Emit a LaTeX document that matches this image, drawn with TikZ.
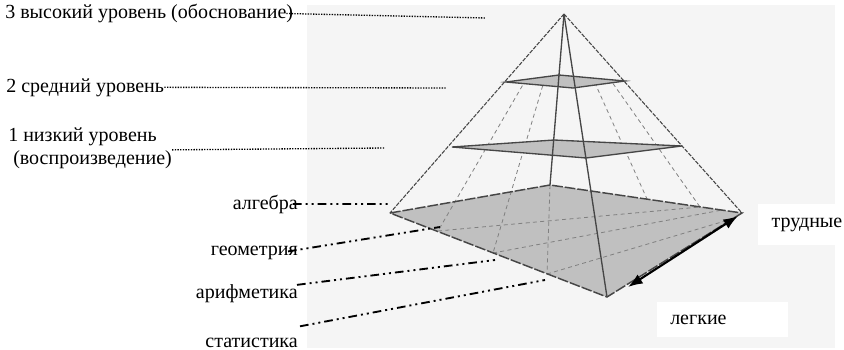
\documentclass[tikz,border=0pt]{standalone}
\usepackage{fontspec}
\setmainfont{Liberation Serif}
\usetikzlibrary{arrows.meta, calc}
\definecolor{paperbg}{RGB}{245,245,245}
\definecolor{basegray}{RGB}{192,192,192}
\definecolor{edgegray}{RGB}{70,70,70}

\begin{document}
\begin{tikzpicture}[
    x=0.75pt, y=-0.75pt,
    every node/.style={inner sep=0pt, font=\fontsize{15}{18}\selectfont},
    levelline/.style={densely dotted, line width=1pt, black},
    leader/.style={line width=1.4pt, black, dash pattern=on 6.5pt off 3pt on 1.5pt off 3pt on 1.5pt off 3pt},
    outeredge/.style={edgegray, line width=0.8pt, dash pattern=on 3pt off 1pt},
    inneredge/.style={edgegray, line width=1pt},
    fanline/.style={gray, line width=0.6pt, dash pattern=on 3pt off 2.5pt},
    section/.style={fill=basegray, draw=edgegray, line width=1pt},
    tagbox/.style={fill=white, anchor=north west, inner xsep=10pt, align=left},
    span/.style={black, line width=1.6pt, {Latex[length=11pt,width=8pt]}-{Latex[length=11pt,width=8pt]}}
]
\useasboundingbox (0,0) rectangle (844,350);
\fill[paperbg] (307,5) rectangle (835,348);

\coordinate (apex) at (564,14);
\coordinate (bl) at (390,213); \coordinate (bb) at (550,185);
\coordinate (br) at (742,213); \coordinate (bf) at (607,297);
\coordinate (lf1) at (438,231); \coordinate (lf2) at (493,253); \coordinate (lf3) at (547,274);
\coordinate (rb1) at (647,199); \coordinate (rb2) at (700,207);
\coordinate (rb3) at (722,210); \coordinate (rf1) at (735,218);

\fill[basegray] (bl) -- (bb) -- (br) -- (bf) -- cycle;
\draw[fanline] (lf1) -- (rb2); \draw[fanline] (lf2) -- (rb3); \draw[fanline] (lf3) -- (rf1);
\draw[fanline] ($(apex)!0.33!(lf1)$) -- (lf1);
\draw[fanline] ($(apex)!0.3!(lf2)$) -- (lf2);
\draw[fanline] (bb) -- (lf3);
\draw[fanline] ($(apex)!0.37!(rb1)$) -- (rb1);
\draw[fanline] ($(apex)!0.36!(rb2)$) -- (rb2);
\draw[edgegray, line width=1.1pt, dash pattern=on 8pt off 1.5pt] (bl) -- (bb) -- (br) -- (bf) -- cycle;

\draw[section] (452,147) -- (554,140) -- (682,146) -- (586,158) -- cycle;
\draw[section] (506,82) -- (559,75) -- (625,81) -- (573,88) -- cycle;

\draw[outeredge] (apex) -- (bl);
\draw[outeredge] (apex) -- (br);
\draw[inneredge] (apex) -- (bb);
\draw[inneredge] (apex) -- (bf);

\node[anchor=base west] (lvl3) at (5,18.5) {3 высокий уровень (обоснование)};
\node[anchor=base west] (lvl2) at (6,92) {2 средний уровень};
\node[anchor=base west] (lvl1a) at (8,141) {1 низкий уровень};
\node[anchor=base west] (lvl1b) at (8,164) {\ (воспроизведение)};
\coordinate (lvl3end) at (486,18);
\coordinate (lvl2end) at (446,88);
\coordinate (lvl1end) at (385,148);
\draw[levelline] ($(lvl3.east)+(-7,0)$) -- (lvl3end);
\draw[levelline] (lvl2.east) -- (lvl2end);
\draw[levelline] (lvl1b.north east) -- (lvl1end);

\node[anchor=base east] (alg) at (298,209) {алгебра};
\node[anchor=base east] (geo) at (298,255) {геометрия};
\node[anchor=base east] (ari) at (298,298) {арифметика};
\node[anchor=base east] (sta) at (298,347) {статистика};
\coordinate (algend) at (388,204);
\coordinate (geoend) at (440,227);
\coordinate (ariend) at (495,260);
\coordinate (staend) at (545,280);
\draw[leader] ($(alg.east)+(-5,0)$) -- (algend);
\draw[leader] ($(geo.east)+(-10,-1)$) -- (geoend);
\draw[leader] ($(ari.north east)+(-1,1)$) -- (ariend);
\draw[leader] ($(sta.north east)+(2,-11)$) -- (staend);

\node[tagbox, text width=60pt, minimum height=30.75pt] (hard) at (758,204) {трудные};
\node[tagbox, text width=78.75pt, inner xsep=9.75pt, minimum height=26.25pt] (easy) at (657,302) {легкие};
\coordinate (spanlo) at (628,287);
\coordinate (spanhi) at (738,216);
\draw[span] (spanlo) -- (spanhi);
\end{tikzpicture}
\end{document}
